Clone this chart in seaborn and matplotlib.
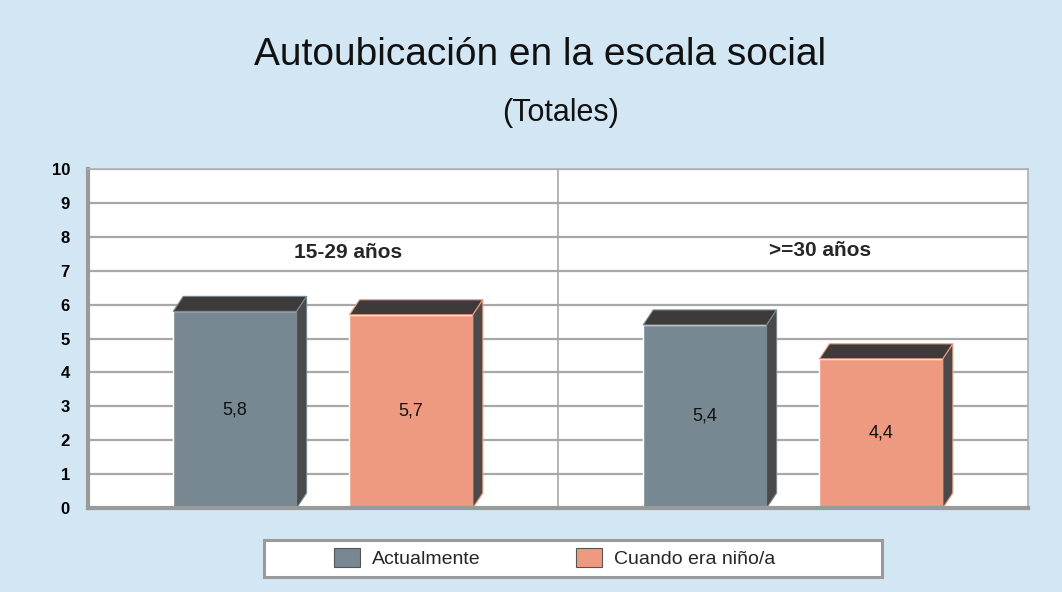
import pandas as pd
import numpy as np
import matplotlib.pyplot as plt
import seaborn as sns
from matplotlib.patches import Polygon, Rectangle

# data
grupos = ['15-29 años', '>=30 años']
series = ['Actualmente', 'Cuando era niño/a']
actualmente = [5.8, 5.4]
cuando_nino = [5.7, 4.4]
colores = ['#778892', '#ee9a80']

df = pd.DataFrame({
    'grupo': grupos * 2,
    'serie': [series[0]] * 2 + [series[1]] * 2,
    'valor': actualmente + cuando_nino,
})

sns.set_theme(style='white')
plt.rcParams['font.family'] = ['Liberation Sans', 'DejaVu Sans']

bg = '#d2e6f4'
fig = plt.figure(figsize=(10.62, 5.92), dpi=100, facecolor=bg)
ax = fig.add_axes([0.0829, 0.1419, 0.8851, 0.5726])
ax.set_facecolor('white')

sns.barplot(data=df, x='grupo', y='valor', hue='serie', palette=colores,
            width=0.75, gap=0.3, saturation=1, ax=ax, legend=True)

ax.set_xlim(-0.5, 1.5)
ax.set_ylim(0, 10)
ax.set_yticks(range(0, 11))
ax.set_yticklabels([str(i) for i in range(0, 11)], fontweight='bold', fontsize=12, color='black')
ax.set_xticks([])
ax.set_xlabel('')
ax.set_ylabel('')
ax.tick_params(axis='y', length=0, pad=13)

# grid and divider
ax.set_axisbelow(True)
ax.yaxis.grid(True, color='#a8a8a8', linewidth=1.6)
ax.axvline(0.5, color='#a8a8a8', linewidth=1.2, zorder=0.5)
for side in ['left', 'bottom']:
    ax.spines[side].set_color('#9a9a9a')
    ax.spines[side].set_linewidth(3)
for side in ['top', 'right']:
    ax.spines[side].set_color('#b0b0b0')
    ax.spines[side].set_linewidth(1.2)

# pseudo 3D top and side faces
fig.canvas.draw()
px_x = 1.0 / (ax.transData.transform((1, 0))[0] - ax.transData.transform((0, 0))[0])
px_y = 1.0 / (ax.transData.transform((0, 1))[1] - ax.transData.transform((0, 0))[1])
dx, dy = 10 * px_x, 15 * px_y
for patch in ax.patches:
    x0 = patch.get_x()
    x1 = x0 + patch.get_width()
    h = patch.get_height()
    if h == 0:
        continue
    top = Polygon([(x0, h), (x0 + dx, h + dy), (x1 + dx, h + dy), (x1, h)],
                  closed=True, facecolor='#3c3b3a', edgecolor=patch.get_facecolor(),
                  linewidth=0.8, zorder=patch.get_zorder())
    side = Polygon([(x1, 0), (x1, h), (x1 + dx, h + dy), (x1 + dx, dy)],
                   closed=True, facecolor='#4a4a4a', edgecolor=patch.get_facecolor(),
                   linewidth=0.8, zorder=patch.get_zorder())
    ax.add_patch(top)
    ax.add_patch(side)

for cont in ax.containers:
    ax.bar_label(cont, fmt=lambda v: f'{v:.1f}'.replace('.', ','),
                 label_type='center', fontsize=13, color='#111111')

# group labels inside the plot
ax.text(0.053, 7.55, grupos[0], ha='center', va='center', fontsize=15, fontweight='bold')
ax.text(1.057, 7.6, grupos[1], ha='center', va='center', fontsize=15, fontweight='bold')

fig.text(0.509, 0.907, 'Autoubicación en la escala social', ha='center', va='center',
         fontsize=28, color='#111111')
fig.text(0.528, 0.809, '(Totales)', ha='center', va='center', fontsize=22, color='#111111')

# legend box and entries
fig.patches.append(Rectangle((0.2486, 0.0253), 0.5819, 0.0625, transform=fig.transFigure,
                             facecolor='white', edgecolor='#9a9a9a', linewidth=2.2, zorder=-1))
leg = ax.legend(loc='center', bbox_to_anchor=(0.522, 0.0574), bbox_transform=fig.transFigure,
                ncol=2, frameon=False, fontsize=14, handlelength=1.35, handleheight=1.1,
                columnspacing=4.9, handletextpad=0.6)
for h in leg.legend_handles:
    h.set_edgecolor('#555555')
    h.set_linewidth(0.8)

fig.savefig('out.png', dpi=100, facecolor=bg)
